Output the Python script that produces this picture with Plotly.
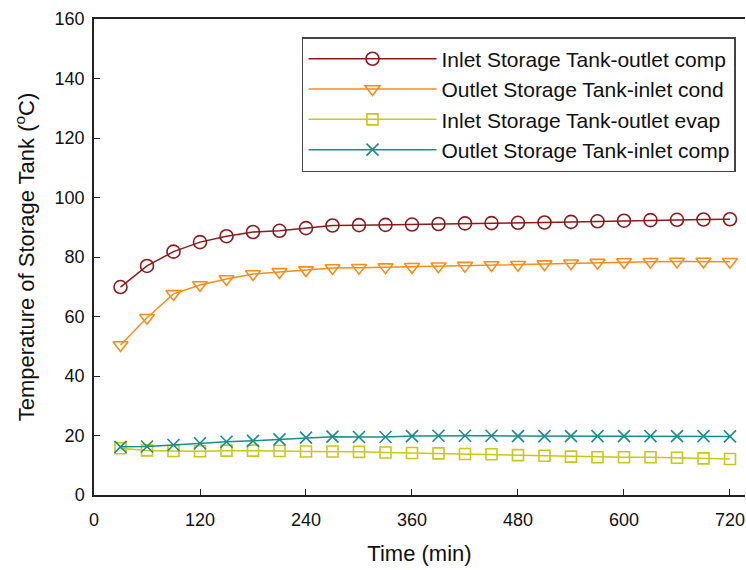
import plotly.graph_objects as go

time_min = [30, 60, 90, 120, 150, 180, 210, 240, 270, 300, 330, 360,
            390, 420, 450, 480, 510, 540, 570, 600, 630, 660, 690, 720]

inlet_outlet_comp = [69.9, 77.0, 81.8, 85.0, 87.0, 88.4, 88.8, 89.7, 90.6, 90.7, 90.8, 90.9,
                     91.1, 91.3, 91.4, 91.5, 91.6, 91.8, 92.0, 92.2, 92.4, 92.5, 92.6, 92.7]
outlet_inlet_cond = [50.4, 59.6, 67.6, 70.6, 72.6, 74.3, 75.0, 75.6, 76.3, 76.4, 76.6, 76.7,
                     76.9, 77.1, 77.3, 77.4, 77.6, 77.9, 78.1, 78.3, 78.4, 78.5, 78.5, 78.4]
inlet_outlet_evap = [15.7, 15.0, 14.8, 14.7, 14.9, 14.9, 14.8, 14.6, 14.6, 14.5, 14.3, 14.1,
                     14.0, 13.8, 13.7, 13.4, 13.2, 12.9, 12.7, 12.7, 12.7, 12.5, 12.3, 12.1]
outlet_inlet_comp = [16.2, 16.3, 16.8, 17.4, 17.9, 18.2, 18.7, 19.3, 19.6, 19.5, 19.5, 19.8,
                     19.9, 19.9, 19.9, 19.8, 19.8, 19.8, 19.8, 19.8, 19.8, 19.8, 19.8, 19.7]

names = ["Inlet Storage Tank-outlet comp", "Outlet Storage Tank-inlet cond",
         "Inlet Storage Tank-outlet evap", "Outlet Storage Tank-inlet comp"]
series = [inlet_outlet_comp, outlet_inlet_cond, inlet_outlet_evap, outlet_inlet_comp]
colors = ["#8B1A1A", "#FF8C1A", "#C8C81A", "#1A8C8C"]
symbols = ["circle-open", "triangle-down-open", "square-open", "x-thin-open"]
sizes = [13, 13, 11, 12]

fig = go.Figure()
for nm, ys, c, s, sz in zip(names, series, colors, symbols, sizes):
    fig.add_trace(go.Scatter(
        x=time_min, y=ys, name=nm, mode="lines+markers",
        line=dict(color=c, width=1.5),
        marker=dict(symbol=s, size=sz, color=c, line=dict(color=c, width=1.6)),
    ))

fig.update_layout(
    width=746, height=570,
    margin=dict(l=94, r=1, t=19, b=75),
    plot_bgcolor="white", paper_bgcolor="white",
    font=dict(family="Liberation Sans, Arial, sans-serif", color="#111"),
    showlegend=True,
    legend=dict(
        x=0.3195, y=0.962, xanchor="left", yanchor="top",
        bordercolor="#444", borderwidth=1.5, bgcolor="white",
        font=dict(size=21, color="#111"),
        itemwidth=128, tracegroupgap=0,
    ),
    xaxis=dict(
        range=[0, 737], tickvals=[0, 120, 240, 360, 480, 600, 720],
        ticks="inside", ticklen=6, tickcolor="#222",
        showline=True, linecolor="#222", linewidth=1.5, mirror=True,
        showgrid=False, zeroline=False,
        tickfont=dict(size=18), ticklabelstandoff=8,
        title=dict(text="Time (min)", font=dict(size=22), standoff=16),
    ),
    yaxis=dict(
        range=[0, 160], tickvals=[0, 20, 40, 60, 80, 100, 120, 140, 160],
        ticks="inside", ticklen=6, tickcolor="#222",
        showline=True, linecolor="#222", linewidth=1.5,
        showgrid=False, zeroline=False,
        tickfont=dict(size=18), ticklabelstandoff=4,
        title=dict(text="Temperature of Storage Tank (<sup>o</sup>C)", font=dict(size=22), standoff=14),
    ),
)

fig.write_html("out.html")
